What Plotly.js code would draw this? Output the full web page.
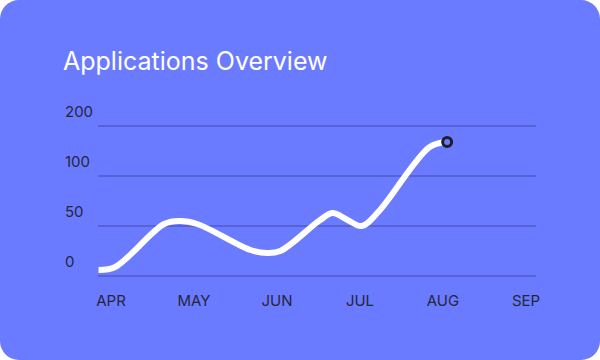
<!DOCTYPE html>
<html>
<head>
<meta charset="utf-8">
<script src="https://cdn.plot.ly/plotly-3.0.1.min.js"></script>
<style>
  html, body { margin: 0; padding: 0; background: #ffffff; }
  #card { width: 600px; height: 360px; border-radius: 19px; overflow: hidden; background: #6b7bff; }
  #chart { width: 600px; height: 360px; }
</style>
</head>
<body>
<div id="card"><div id="chart"></div></div>
<script>
// Month tick labels (positions 0..5)
const months = ['APR', 'MAY', 'JUN', 'JUL', 'AUG', 'SEP'];
const monthPos = [0, 1, 2, 3, 4, 5];
// Y tick labels as printed on the chart (equally spaced)
const yTickVals = [0, 50, 100, 150];
const yTickText = ['0', '50', '100', '200'];
// Points (x in month units, y in axis units)
const lineX = [-0.15, 0.05, 0.64, 0.83, 1.04, 1.68, 1.88, 2.04, 2.52, 2.67, 2.84, 3.02, 3.23, 3.84, 4.05];
const lineY = [6, 9, 52, 55, 52, 26, 23, 25, 56, 63, 56.5, 50, 65, 129, 134];

const bg = '#6b7bff';
const tickColor = '#25263a';

const data = [
  {
    x: lineX, y: lineY, type: 'scatter', mode: 'lines',
    line: { color: '#ffffff', width: 6, shape: 'spline', smoothing: 1 },
    hoverinfo: 'skip', showlegend: false
  },
  {
    x: [lineX[lineX.length - 1]], y: [lineY[lineY.length - 1]],
    type: 'scatter', mode: 'markers',
    marker: { size: 9, color: bg, line: { color: '#1e1e2a', width: 3 } },
    hoverinfo: 'skip', showlegend: false
  }
];

const layout = {
  width: 600, height: 360,
  paper_bgcolor: 'rgba(0,0,0,0)', plot_bgcolor: 'rgba(0,0,0,0)',
  margin: { l: 60, r: 64, t: 122, b: 80, pad: 0 },
  font: { family: 'Inter, Roboto, sans-serif', color: tickColor, size: 15 },
  title: {
    text: 'Applications Overview',
    font: { family: 'Inter, Roboto, sans-serif', size: 25, color: '#ffffff' },
    xref: 'container', yref: 'container', x: 63 / 600, xanchor: 'left',
    y: 1 - 61 / 360, yanchor: 'middle'
  },
  xaxis: {
    domain: [(98 - 60) / 476, 1],
    range: [(98 - 111) / 83, (536 - 111) / 83],
    tickvals: monthPos, ticktext: months,
    showgrid: false, zeroline: false, showline: false, ticks: '',
    tickfont: { size: 15, color: tickColor }, ticklabelstandoff: 10,
    fixedrange: true
  },
  yaxis: {
    anchor: 'free', position: 0, side: 'right',
    range: [-4, 154],
    tickvals: yTickVals, ticktext: yTickText,
    showgrid: true, gridcolor: '#5862d6', gridwidth: 2,
    zeroline: false, showline: false, ticks: '',
    tickfont: { size: 15, color: tickColor },
    ticklabelstandoff: 4, ticklabelshift: -14,
    fixedrange: true
  }
};

Plotly.newPlot('chart', data, layout, { displayModeBar: false, staticPlot: true });
</script>
</body>
</html>
